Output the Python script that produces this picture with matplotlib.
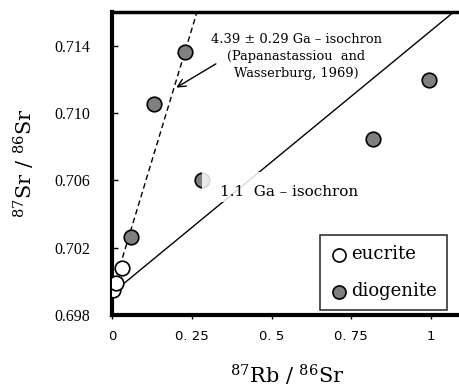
import numpy as np
import matplotlib
matplotlib.use('Agg')
from matplotlib import pyplot as plt
from matplotlib.patches import Rectangle

# eucrite / diogenite Rb-Sr data
eucrite_x = [0.002, 0.0115, 0.030]
eucrite_y = [0.69949, 0.69988, 0.70078]
diogenite_x = [0.0585, 0.133, 0.229, 0.281, 0.817, 0.992]
diogenite_y = [0.70262, 0.71053, 0.71363, 0.7060, 0.70845, 0.71198]

# isochron lines: intercept, slope
iso_old = (0.69936, 0.0625)   # 4.39 Ga
iso_young = (0.6993, 0.0156)  # 1.1 Ga

xticks = [0, 0.25, 0.5, 0.75, 1]
xticklabels = ['0', '0. 25', '0. 5', '0. 75', '1']
yticks = [0.698, 0.702, 0.706, 0.710, 0.714]

plt.rcParams['font.family'] = 'DejaVu Serif'
plt.rcParams['mathtext.fontset'] = 'dejavuserif'

fig = plt.figure(figsize=(4.6, 3.9), dpi=100)
ax = fig.add_axes([0.2435, 0.192, 0.763, 0.777])

xx = np.array([0, 1.1])
ax.plot(xx, iso_old[0] + iso_old[1] * xx, color='black', ls=(0, (4, 2.5)), lw=1.0, zorder=2)
ax.plot(xx, iso_young[0] + iso_young[1] * xx, color='black', lw=1.0, zorder=2)

ax.scatter(diogenite_x, diogenite_y, s=110, facecolor='#808080', edgecolor='black',
           linewidth=1.2, zorder=3, label='diogenite')
ax.scatter(eucrite_x, eucrite_y, s=110, facecolor='white', edgecolor='black',
           linewidth=1.2, zorder=4, label='eucrite')

# semi-opaque white box behind the 1.1 Ga label
ax.add_patch(Rectangle((0.282, 0.7047), 0.51, 0.0018, facecolor='white', edgecolor='none',
                       alpha=0.85, zorder=5))
ax.text(0.555, 0.7053, '1.1  Ga – isochron', fontsize=10.9, ha='center', va='center',
        zorder=6)

ax.text(0.577, 0.71335, '4.39 ± 0.29 Ga – isochron\n(Papanastassiou  and\nWasserburg, 1969)',
        fontsize=9.4, ha='center', va='center', linespacing=1.4, zorder=5)
ax.annotate('', xy=(0.194, 0.71143), xytext=(0.333, 0.71301),
            arrowprops=dict(arrowstyle='->', color='black', lw=1.0, mutation_scale=14))

leg = ax.legend(handles=ax.collections[::-1], loc='lower right', bbox_to_anchor=(0.954, 0.016),
                bbox_transform=ax.transAxes, frameon=True, fancybox=False, fontsize=13,
                handletextpad=0.1, borderpad=0.55, labelspacing=1.05, handlelength=1.1,
                markerscale=0.9, borderaxespad=0)
leg.get_frame().set_edgecolor('black')
leg.get_frame().set_linewidth(1.2)

ax.set_xlim(0, 1.1)
ax.set_ylim(0.698, 0.716)
ax.set_xticks(xticks)
ax.set_xticklabels(xticklabels, family='DejaVu Sans', fontsize=9.5)
ax.set_yticks(yticks)
ax.set_yticklabels(['%.3f' % v for v in yticks], family='Liberation Serif', fontsize=11.5)
ax.tick_params(axis='y', direction='in', length=4, width=1, pad=16)
ax.tick_params(axis='x', direction='out', length=3, width=1, pad=8)

for side in ['left', 'bottom']:
    ax.spines[side].set_linewidth(3)
ax.spines['top'].set_linewidth(2.5)
ax.spines['right'].set_linewidth(2.5)

ax.set_xlabel(r'$^{87}$Rb / $^{86}$Sr', fontsize=15, labelpad=14)
ax.set_ylabel(r'$^{87}$Sr / $^{86}$Sr', fontsize=15, labelpad=12)

fig.savefig('out.png', dpi=100)
